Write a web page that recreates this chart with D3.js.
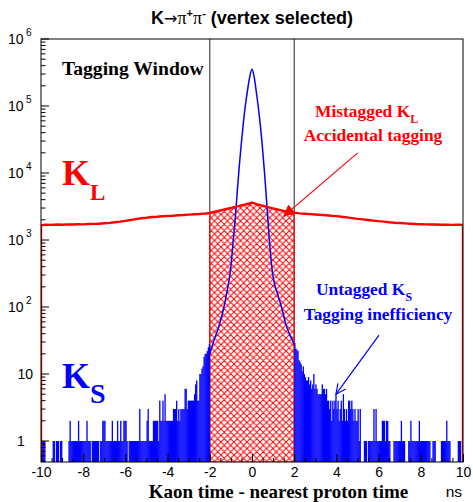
<!DOCTYPE html>
<html>
<head>
<meta charset="utf-8">
<script src="https://cdn.jsdelivr.net/npm/d3@7"></script>
<style>
    body { margin: 0; background: #fff; }
    svg { display: block; }
    .sans { font-family: "Liberation Sans", Arial, sans-serif; }
    .serif { font-family: "Liberation Serif", "Times New Roman", serif; font-weight: bold; }
</style>
</head>
<body>
<div id="chart"></div>
<script>

// K_S counts in 0.05 ns bins outside the tagging window
var binWidth = 0.05;
var ksLeft = [                      // t = -10 ... -2
    1,1,1,1,0,0,0,0,0,0,0,1,1,0,1,1,1,0,1,1,
    0,0,0,0,0,0,1,2,1,1,1,1,1,1,1,2,1,1,1,1,
    1,1,1,2,1,1,1,0,1,1,1,1,1,1,1,0,1,1,2,2,
    2,1,1,1,1,1,1,2,1,1,1,1,2,1,1,2,1,1,2,2,
    2,1,0,1,1,1,1,1,1,1,1,1,1,3,1,1,1,1,1,1,
    2,3,1,1,1,1,2,2,2,2,2,1,4,2,2,4,2,5,2,2,
    2,2,2,2,2,3,3,3,4,2,3,2,3,3,3,3,6,6,3,4,
    4,4,4,4,4,5,7,8,4,4,10,10,12,13,18,20,20,22,25,28
];
var ksRight = [                     // t = 2 ... 10
    29,24,23,22,16,15,14,11,13,10,9,8,8,9,7,8,6,7,10,6,
    7,6,5,5,5,5,7,6,6,5,6,4,4,3,4,2,4,3,4,5,
    3,4,2,3,4,2,5,3,2,3,2,4,4,3,4,3,2,3,2,2,
    3,1,3,0,0,0,1,1,1,0,1,1,1,1,1,3,1,3,1,1,
    1,1,1,2,2,2,1,2,2,1,1,0,0,0,1,1,1,1,1,1,
    1,2,1,1,1,0,0,0,1,1,2,1,1,1,1,1,1,1,2,1,
    1,1,1,1,1,1,1,1,1,0,0,1,1,1,0,0,0,0,0,1,
    1,1,1,1,2,1,1,1,0,0,0,0,0,0,0,1,1,1,0,1
];

// K_S peak inside the window (drawn as a curve)
var ksCoreTime = [-2, -1.8, -1.6, -1.4, -1.2, -1, -0.9, -0.8, -0.7, -0.6, -0.5, -0.4, -0.3, -0.2, -0.1,
    0, 0.1, 0.2, 0.3, 0.4, 0.5, 0.6, 0.7, 0.8, 0.9, 1, 1.2, 1.4, 1.6, 1.8, 2];
var ksCore = [20, 32, 48, 80, 160, 400, 900, 2000, 5200, 13000, 29000, 60000, 110000, 182000, 282000,
    355000, 275000, 166000, 95000, 50000, 23000, 9500, 3500, 1250, 520, 280, 160, 100, 56, 38, 28];

// K_L counts, 0.25 ns steps from -10 to 10
var klStep = 0.25;
var kl = [
    1670,1690,1680,1700,1690,1710,1700,1720,1710,1730,1740,1750,1780,1800,1840,1880,
    1930,1990,2050,2110,2150,2200,2220,2260,2280,2300,2340,2360,2390,2420,2440,2480,
    2530,2640,2760,2880,3000,3140,3280,3420,3600,3400,3250,3100,2960,2840,2720,2620,
    2560,2500,2460,2430,2400,2370,2340,2300,2270,2220,2180,2120,2070,2030,1990,1950,
    1910,1880,1840,1810,1790,1770,1750,1730,1720,1710,1700,1700,1690,1690,1680,1690,1680
];

var xTicks = [-10, -8, -6, -4, -2, 0, 2, 4, 6, 8, 10];
var yDecades = [0, 1, 2, 3, 4, 5, 6];
var windowEdges = [-2, 2];

var width = 473, height = 502;
var margin = {top: 39, right: 10, bottom: 40, left: 41};
var plotBottom = height - margin.bottom,
    plotRight = width - margin.right;
var yMin = 0.486;

var xScale = d3.scaleLinear().domain([-10, 10]).range([margin.left, plotRight]);
var yScale = d3.scaleLog().domain([yMin, 1e6]).range([plotBottom, margin.top]);

var svg = d3.select("#chart")
    .append("svg")
    .attr("width", width)
    .attr("height", height);

var defs = svg.append("defs");
var hatch = defs.append("pattern")
    .attr("id", "hatch")
    .attr("patternUnits", "userSpaceOnUse")
    .attr("width", 6.5)
    .attr("height", 6.5);
hatch.append("path")
    .attr("d", "M0,0L6.5,6.5M6.5,0L0,6.5M-1,5.5L1,7.5M5.5,-1L7.5,1")
    .attr("stroke", "#ff0000")
    .attr("stroke-width", 1)
    .attr("fill", "none");

defs.append("clipPath").attr("id", "plotClip")
    .append("rect")
    .attr("x", margin.left).attr("y", margin.top)
    .attr("width", plotRight - margin.left)
    .attr("height", plotBottom - margin.top);

var plot = svg.append("g").attr("clip-path", "url(#plotClip)");

// window edges
plot.selectAll(".edge")
    .data(windowEdges)
    .enter().append("line")
    .attr("x1", function (d) { return xScale(d); })
    .attr("x2", function (d) { return xScale(d); })
    .attr("y1", margin.top)
    .attr("y2", plotBottom)
    .attr("stroke", "#222")
    .attr("stroke-width", 1);

// K_L points
var klPoints = kl.map(function (v, i) {
    return {t: -10 + i * klStep, v: v};
});

var klArea = d3.area()
    .x(function (d) { return xScale(d.t); })
    .y0(plotBottom)
    .y1(function (d) { return yScale(d.v); });

var inWindow = klPoints.filter(function (d) { return d.t >= -2 && d.t <= 2; });
plot.append("path")
    .attr("d", klArea(inWindow))
    .attr("fill", "url(#hatch)")
    .attr("stroke", "#ff0000")
    .attr("stroke-width", 1);

// K_S bars outside the window
var ksBins = [];
ksLeft.forEach(function (v, i) { ksBins.push({t: -10 + i * binWidth, v: v}); });
ksRight.forEach(function (v, i) { ksBins.push({t: 2 + i * binWidth, v: v}); });

plot.selectAll(".ksbar")
    .data(ksBins.filter(function (d) { return d.v > 0; }))
    .enter().append("rect")
    .attr("class", "ksbar")
    .attr("x", function (d) { return xScale(d.t); })
    .attr("width", xScale(binWidth) - xScale(0) + 0.25)
    .attr("y", function (d) { return yScale(d.v); })
    .attr("height", function (d) { return plotBottom - yScale(d.v); })
    .attr("fill", "#0000ff");

// K_S peak
var coreLine = d3.line()
    .curve(d3.curveMonotoneX)
    .x(function (d, i) { return xScale(ksCoreTime[i]); })
    .y(function (d) { return yScale(d); });

plot.append("path")
    .attr("d", coreLine(ksCore))
    .attr("fill", "none")
    .attr("stroke", "#0000ff")
    .attr("stroke-width", 1.5);

// K_L line, with the histogram edges down to the bottom
var klLine = d3.line()
    .x(function (d) { return xScale(d.t); })
    .y(function (d) { return yScale(d.v); });

var klOutline = [{t: -10, v: yMin}].concat(klPoints, [{t: 10, v: yMin}]);
plot.append("path")
    .attr("d", klLine(klOutline))
    .attr("fill", "none")
    .attr("stroke", "#ff0000")
    .attr("stroke-width", 2.4)
    .attr("stroke-linejoin", "round");

// frame
svg.append("rect")
    .attr("x", margin.left)
    .attr("y", margin.top)
    .attr("width", plotRight - margin.left)
    .attr("height", plotBottom - margin.top)
    .attr("fill", "none")
    .attr("stroke", "#000")
    .attr("stroke-width", 1);

// x axis
var xAxis = d3.axisBottom(xScale)
    .tickValues(xTicks)
    .tickSize(-8)
    .tickPadding(5)
    .tickFormat(function (d) { return String(d); });

var xMinor = d3.axisBottom(xScale)
    .tickValues(d3.range(-10, 10.001, 0.5))
    .tickSize(-4)
    .tickFormat("");

svg.append("g")
    .attr("transform", "translate(0," + plotBottom + ")")
    .call(xMinor);

var xg = svg.append("g")
    .attr("class", "sans")
    .attr("transform", "translate(0," + plotBottom + ")")
    .call(xAxis);

svg.selectAll("path.domain").remove();
xg.selectAll("text")
    .attr("font-family", "Liberation Sans, Arial, sans-serif")
    .attr("font-size", 14)
    .attr("fill", "#000");
svg.selectAll(".tick line").attr("stroke", "#000");

// y axis ticks
var yTicks = [];
yDecades.concat([-1]).forEach(function (p) {
    for (var k = 1; k <= 9; k++) {
        var v = k * Math.pow(10, p);
        if (v >= yMin && v <= 1e6) yTicks.push({v: v, major: k === 1});
    }
});

svg.selectAll(".ytick")
    .data(yTicks)
    .enter().append("line")
    .attr("x1", margin.left)
    .attr("x2", function (d) { return margin.left + (d.major ? 8 : 4.5); })
    .attr("y1", function (d) { return yScale(d.v); })
    .attr("y2", function (d) { return yScale(d.v); })
    .attr("stroke", "#000");

var yLab = svg.append("g").attr("class", "sans").attr("font-size", 14);
yDecades.forEach(function (p) {
    var y = yScale(Math.pow(10, p)) + 5;
    if (p === 0) {
        yLab.append("text").attr("x", 17).attr("y", y).text("1");
    } else if (p === 1) {
        yLab.append("text").attr("x", 33).attr("y", y).attr("text-anchor", "end").text("10");
    } else {
        yLab.append("text").attr("x", 23.5).attr("y", y).attr("text-anchor", "end").text("10");
        yLab.append("text").attr("x", 26).attr("y", y - 8).attr("font-size", 10).text(p);
    }
});

// axis titles
svg.append("text")
    .attr("class", "serif")
    .attr("x", 278.5)
    .attr("y", 498)
    .attr("text-anchor", "middle")
    .attr("font-size", 19)
    .text("Kaon time - nearest proton time");

svg.append("text")
    .attr("class", "sans")
    .attr("x", 462)
    .attr("y", 497)
    .attr("text-anchor", "end")
    .attr("font-size", 15.5)
    .text("ns");

// title
var title = svg.append("text")
    .attr("x", 252)
    .attr("y", 24)
    .attr("text-anchor", "middle")
    .attr("font-size", 18)
    .attr("font-weight", "bold")
    .attr("font-family", "Liberation Sans, Arial, sans-serif");
title.append("tspan").text("K");
title.append("tspan").attr("font-family", "DejaVu Sans, sans-serif").attr("font-weight", "normal").attr("font-size", 16).text("\u2192");
title.append("tspan").attr("font-family", "Liberation Serif, serif").attr("font-weight", "normal").text("\u03c0");
title.append("tspan").attr("font-size", 11).attr("dy", -7).text("+");
title.append("tspan").attr("font-family", "Liberation Serif, serif").attr("font-weight", "normal").attr("dy", 7).text("\u03c0");
title.append("tspan").attr("font-size", 11).attr("dy", -7).text("-");
title.append("tspan").attr("dy", 7).text(" (vertex selected)");

// annotations
svg.append("text")
    .attr("class", "serif")
    .attr("x", 62)
    .attr("y", 75)
    .attr("font-size", 19.6)
    .text("Tagging Window");

function bigLabel(x, y, sub, subDy, subSize, color) {
    var t = svg.append("text")
        .attr("class", "serif")
        .attr("x", x)
        .attr("y", y)
        .attr("fill", color)
        .attr("font-size", 36);
    t.append("tspan").text("K");
    t.append("tspan").attr("font-size", subSize).attr("dy", subDy).text(sub);
}
bigLabel(62, 185, "L", 15, 23, "#ff0000");
bigLabel(62, 388, "S", 15, 28, "#0000ff");

function note(x, y, main, sub, color) {
    var t = svg.append("text")
        .attr("class", "serif")
        .attr("x", x)
        .attr("y", y)
        .attr("fill", color)
        .attr("font-size", 17.4);
    t.append("tspan").text(main);
    t.append("tspan").attr("font-size", 12).attr("dy", 6).text(sub);
}
note(315, 117, "Mistagged K", "L", "#ff0000");
note(316, 295, "Untagged K", "S", "#0000ff");

svg.append("text").attr("class", "serif")
    .attr("x", 373).attr("y", 141).attr("text-anchor", "middle")
    .attr("fill", "#ff0000").attr("font-size", 17.4)
    .text("Accidental tagging");

svg.append("text").attr("class", "serif")
    .attr("x", 378).attr("y", 320).attr("text-anchor", "middle")
    .attr("fill", "#0000ff").attr("font-size", 17.4)
    .text("Tagging inefficiency");

// arrows (in data coordinates)
function arrow(t1, v1, t2, v2, color, filled) {
    var x1 = xScale(t1), y1 = yScale(v1), x2 = xScale(t2), y2 = yScale(v2);
    var a = Math.atan2(y2 - y1, x2 - x1), s = 11, w = 0.45;
    var p1 = [x2 - s * Math.cos(a - w), y2 - s * Math.sin(a - w)],
        p2 = [x2 - s * Math.cos(a + w), y2 - s * Math.sin(a + w)];
    svg.append("line")
        .attr("x1", x1).attr("y1", y1).attr("x2", x2).attr("y2", y2)
        .attr("stroke", color).attr("stroke-width", 1.2);
    svg.append("path")
        .attr("d", "M" + p1 + "L" + [x2, y2] + "L" + p2 + (filled ? "Z" : ""))
        .attr("fill", filled ? color : "none")
        .attr("stroke", color)
        .attr("stroke-width", 1.2);
}
arrow(5.01, 20000, 1.52, 2290, "#ff0000", true);
arrow(6.02, 38, 3.98, 5, "#0000ff", false);

</script>
</body>
</html>
